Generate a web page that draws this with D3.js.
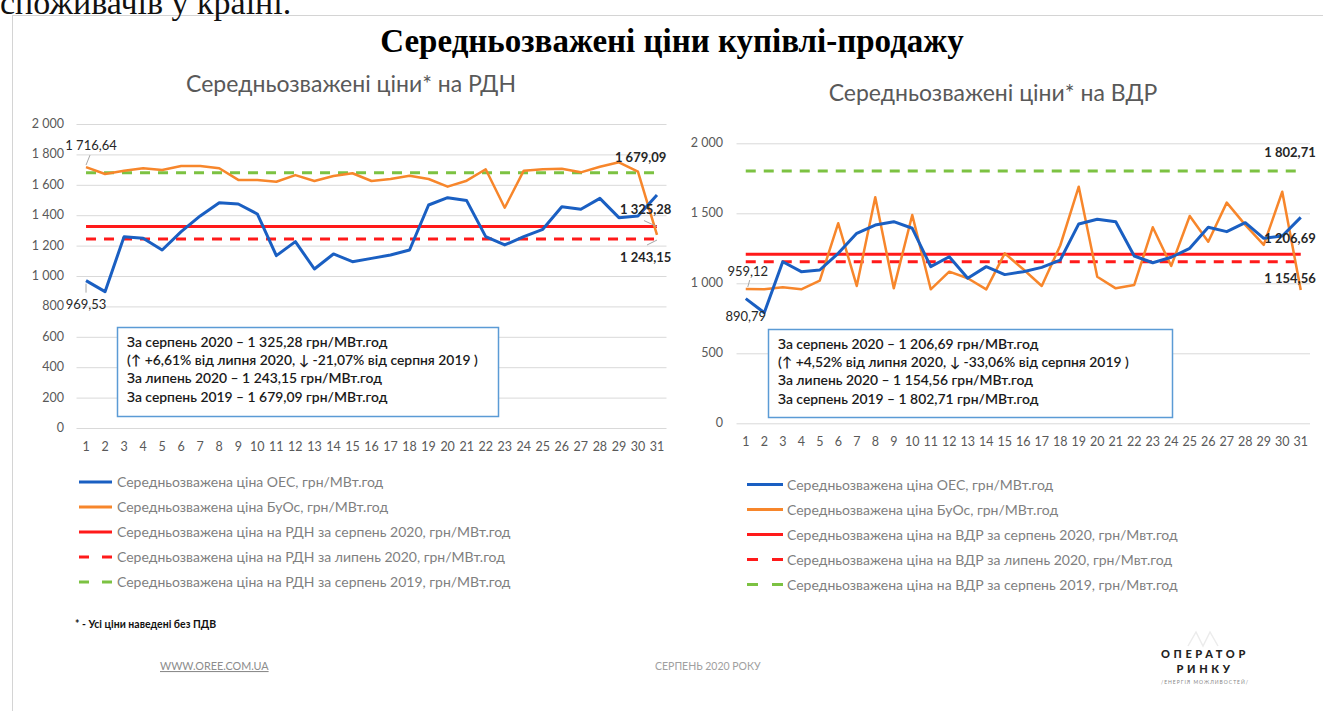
<!DOCTYPE html>
<html lang="uk">
<head>
    <title>Середньозважені ціни купівлі-продажу</title>
    <meta charset="utf-8">
    <style>
        body { margin: 0; background: #fff; }
        svg text { font-family: 'Lato', 'Open Sans', sans-serif; }
        .grid line { stroke: #d9d9d9; stroke-width: 1px; }
        .tick-label { fill: #595959; font-size: 12.5px; }
        .subtitle { fill: #595959; font-size: 23px; }
        .legend-text { fill: #7f7f7f; font-size: 14px; }
        .box-text { fill: #1a1a1a; font-size: 13.9px; font-weight: 600; }
        .point-label { fill: #262626; font-size: 13px; }
        .point-label.bold { font-weight: 700; }
        .leader { stroke: #a6a6a6; stroke-width: 1px; }
    </style>
</head>
<body>
<svg id="chart" width="1323" height="711"></svg>
<script src="https://d3js.org/d3.v7.min.js"></script>
<script>
// days of August 2020
const days = [1, 2, 3, 4, 5, 6, 7, 8, 9, 10, 11, 12, 13, 14, 15, 16, 17, 18, 19, 20,
              21, 22, 23, 24, 25, 26, 27, 28, 29, 30, 31];

// РДН (day-ahead market)
const rdnOes = [969.53, 897, 1259, 1248, 1171, 1292, 1395, 1482, 1474, 1408, 1134, 1226, 1046, 1145, 1094,
                1116, 1138, 1171, 1467, 1515, 1496, 1259, 1204, 1259, 1307, 1456, 1439, 1511, 1384, 1395, 1533];
const rdnBuos = [1716.64, 1671, 1693, 1709, 1697, 1724, 1724, 1709, 1632, 1632, 1620, 1664, 1625, 1658, 1676,
                 1625, 1638, 1660, 1638, 1588, 1627, 1702, 1449, 1693, 1702, 1705, 1682, 1719, 1748, 1686, 1270];
const rdnAug2020 = 1325.28;
const rdnJul2020 = 1243.15;
const rdnAug2019 = 1679.09;
const rdnTicks = [0, 200, 400, 600, 800, 1000, 1200, 1400, 1600, 1800, 2000];

// ВДР (intraday market)
const vdrOes = [890.79, 790, 1154, 1083, 1095, 1214, 1357, 1416, 1440, 1393, 1119, 1190, 1036, 1119, 1062,
                1083, 1114, 1166, 1424, 1457, 1440, 1195, 1147, 1186, 1250, 1400, 1369, 1433, 1321, 1338, 1471];
const vdrBuos = [959.12, 957, 971, 957, 1019, 1429, 981, 1614, 964, 1488, 957, 1083, 1036, 957, 1214,
                 1100, 981, 1270, 1690, 1047, 964, 988, 1400, 1124, 1481, 1297, 1576, 1417, 1274, 1654, 952];
const vdrAug2020 = 1206.69;
const vdrJul2020 = 1154.56;
const vdrAug2019 = 1802.71;
const vdrTicks = [0, 500, 1000, 1500, 2000];

const rdnLegend = [
    "Середньозважена ціна ОЕС, грн/МВт.год",
    "Середньозважена ціна БуОс, грн/МВт.год",
    "Середньозважена ціна на РДН за серпень 2020, грн/МВт.год",
    "Середньозважена ціна на РДН за липень 2020, грн/МВт.год",
    "Середньозважена ціна на РДН за серпень 2019, грн/МВт.год"
];
const vdrLegend = [
    "Середньозважена ціна ОЕС, грн/МВт.год",
    "Середньозважена ціна БуОс, грн/МВт.год",
    "Середньозважена ціна на ВДР за серпень 2020, грн/Мвт.год",
    "Середньозважена ціна на ВДР за липень 2020, грн/Мвт.год",
    "Середньозважена ціна на ВДР за серпень 2019, грн/Мвт.год"
];
const rdnNote = [
    "За серпень 2020 – 1 325,28 грн/МВт.год",
    "(↑ +6,61% від липня 2020, ↓ -21,07% від серпня 2019 )",
    "За липень 2020 – 1 243,15 грн/МВт.год",
    "За серпень 2019 – 1 679,09 грн/МВт.год"
];
const vdrNote = [
    "За серпень 2020 – 1 206,69 грн/МВт.год",
    "(↑ +4,52% від липня 2020, ↓ -33,06% від серпня 2019 )",
    "За липень 2020 – 1 154,56 грн/МВт.год",
    "За серпень 2019 – 1 802,71 грн/МВт.год"
];

const locale = d3.formatLocale({decimal: ",", thousands: " ", grouping: [3], currency: ["", ""]});
const fmtTick = v => v >= 1000 ? locale.format(",")(v) : String(v);
const fmtVal = locale.format(",.2f");

const colors = {oes: "#1a5fc2", buos: "#f7862b", red: "#ff1a1a", green: "#7cc242"};

const svg = d3.select("#chart");

// slide frame
svg.append("rect")
    .attr("x", 12.5).attr("y", 15.5)
    .attr("width", 1330).attr("height", 720)
    .attr("fill", "none")
    .attr("stroke", "#d4d4d4");

// page fragment above the slide
svg.append("text")
    .attr("x", 0).attr("y", 14)
    .style("font-family", "'Liberation Serif', serif")
    .style("font-size", "34px")
    .attr("fill", "#111")
    .text("споживачів у країні.");

svg.append("text")
    .attr("x", 672).attr("y", 52)
    .attr("text-anchor", "middle")
    .style("font-family", "'Liberation Serif', serif")
    .style("font-size", "33px")
    .style("font-weight", "bold")
    .attr("fill", "#000")
    .text("Середньозважені ціни купівлі-продажу");

let rdn = {
    subtitle: "Середньозважені ціни* на РДН", subX: 351, subY: 92,
    oes: rdnOes, buos: rdnBuos,
    refs: [rdnAug2020, rdnJul2020, rdnAug2019],
    ticks: rdnTicks,
    left: 76.5, right: 666.5, top: 124, bottom: 428,
    tickX: 64, dayY: 451,
    legend: rdnLegend, legendX: 79, legendY: 482, legendLen: 33, legendGap: 5, legendDash: "10,13",
    note: rdnNote, box: [117, 327, 381, 89],
    labels: [
        {series: "buos", day: 1, dx: 5, dy: -17, bold: false, leader: [0, -2, 4, -12]},
        {series: "oes", day: 1, dx: 0, dy: 28, bold: false, leader: [0, 3, 0, 12]},
        {series: "ref2", day: 29, dx: -4, dy: -11, bold: true, anchor: "start"},
        {series: "ref0", day: 31, dx: -37, dy: -13, bold: true, anchor: "start", leader: [-13, -6, 0, 0]},
        {series: "ref1", day: 31, dx: -37, dy: 23, bold: true, anchor: "start", leader: [-10, 6, 0, 1]}
    ]
};

let vdr = {
    subtitle: "Середньозважені ціни* на ВДР", subX: 993, subY: 101,
    oes: vdrOes, buos: vdrBuos,
    refs: [vdrAug2020, vdrJul2020, vdrAug2019],
    ticks: vdrTicks,
    left: 736.5, right: 1310, top: 143.3, bottom: 423.3,
    tickX: 723, dayY: 446,
    legend: vdrLegend, legendX: 747, legendY: 484.5, legendLen: 36, legendGap: 4, legendDash: "11,14",
    note: vdrNote, box: [768, 329, 404, 88],
    labels: [
        {series: "buos", day: 1, dx: 2, dy: -13, bold: false, leader: [2, -2, 4, -9]},
        {series: "oes", day: 1, dx: 0, dy: 22, bold: false},
        {series: "ref2", day: 31, dx: 15, dy: -14, bold: true, anchor: "end"},
        {series: "ref0", day: 31, dx: 15, dy: -11, bold: true, anchor: "end"},
        {series: "ref1", day: 31, dx: 15, dy: 21, bold: true, anchor: "end"}
    ]
};

function drawPanel(graph) {
    let xScale = d3.scalePoint()
        .domain(days)
        .range([graph.left, graph.right])
        .padding(0.5);
    let yScale = d3.scaleLinear()
        .domain([0, 2000])
        .range([graph.bottom, graph.top]);
    let g = svg.append("g");

    g.append("text")
        .attr("class", "subtitle")
        .attr("x", graph.subX).attr("y", graph.subY)
        .attr("text-anchor", "middle")
        .text(graph.subtitle);

    // gridlines + y labels
    g.append("g").attr("class", "grid")
        .selectAll("line")
        .data(graph.ticks)
        .join("line")
        .attr("x1", graph.left).attr("x2", graph.right)
        .attr("y1", d => yScale(d) + 0.5).attr("y2", d => yScale(d) + 0.5);
    g.append("g")
        .selectAll("text")
        .data(graph.ticks)
        .join("text")
        .attr("class", "tick-label")
        .attr("x", graph.tickX).attr("y", d => yScale(d) + 4)
        .attr("text-anchor", "end")
        .text(fmtTick);

    // day labels
    g.append("g")
        .selectAll("text")
        .data(days)
        .join("text")
        .attr("class", "tick-label")
        .attr("x", d => xScale(d)).attr("y", graph.dayY)
        .attr("text-anchor", "middle")
        .text(d => d);

    // reference lines
    const refStyles = [
        {color: colors.red, dash: null},
        {color: colors.red, dash: "10,8"},
        {color: colors.green, dash: "10,8"}
    ];
    graph.refs.forEach((v, i) => {
        g.append("line")
            .attr("x1", xScale(1)).attr("x2", xScale(31))
            .attr("y1", yScale(v)).attr("y2", yScale(v))
            .attr("stroke", refStyles[i].color)
            .attr("stroke-width", 3)
            .attr("stroke-dasharray", refStyles[i].dash);
    });

    let line = d3.line()
        .x((d, i) => xScale(days[i]))
        .y(d => yScale(d));
    g.append("path").datum(graph.buos)
        .attr("d", line).attr("fill", "none")
        .attr("stroke", colors.buos).attr("stroke-width", 2.5)
        .attr("stroke-linejoin", "round");
    g.append("path").datum(graph.oes)
        .attr("d", line).attr("fill", "none")
        .attr("stroke", colors.oes).attr("stroke-width", 3)
        .attr("stroke-linejoin", "round");

    // value labels
    graph.labels.forEach(l => {
        let v;
        if (l.series === "oes") v = graph.oes[l.day - 1];
        else if (l.series === "buos") v = graph.buos[l.day - 1];
        else v = graph.refs[+l.series.slice(3)];
        let px = xScale(l.day), py = yScale(v);
        if (l.leader) {
            g.append("line").attr("class", "leader")
                .attr("x1", px + l.leader[0]).attr("y1", py + l.leader[1])
                .attr("x2", px + l.leader[2]).attr("y2", py + l.leader[3]);
        }
        g.append("text")
            .attr("class", "point-label" + (l.bold ? " bold" : ""))
            .attr("x", px + l.dx).attr("y", py + l.dy)
            .attr("text-anchor", l.anchor || "middle")
            .text(fmtVal(v));
    });

    // note box
    let b = graph.box;
    g.append("rect")
        .attr("x", b[0] + 0.5).attr("y", b[1] + 0.5)
        .attr("width", b[2]).attr("height", b[3])
        .attr("fill", "#fff")
        .attr("stroke", "#5b9bd5").attr("stroke-width", 1.5);
    g.append("g")
        .selectAll("text")
        .data(graph.note)
        .join("text")
        .attr("class", "box-text")
        .attr("x", b[0] + 10)
        .attr("y", (d, i) => b[1] + 19.5 + i * 18.4)
        .text(d => d);

    // legend
    const legendStyles = [
        {color: colors.oes, dash: null},
        {color: colors.buos, dash: null},
        {color: colors.red, dash: null},
        {color: colors.red, dash: graph.legendDash},
        {color: colors.green, dash: graph.legendDash}
    ];
    let lg = g.append("g");
    graph.legend.forEach((t, i) => {
        let y = graph.legendY + i * 25;
        lg.append("line")
            .attr("x1", graph.legendX).attr("x2", graph.legendX + graph.legendLen)
            .attr("y1", y).attr("y2", y)
            .attr("stroke", legendStyles[i].color)
            .attr("stroke-width", 3)
            .attr("stroke-dasharray", legendStyles[i].dash);
        lg.append("text")
            .attr("class", "legend-text")
            .attr("x", graph.legendX + graph.legendLen + graph.legendGap)
            .attr("y", y + 5)
            .text(t);
    });
}

drawPanel(rdn);
drawPanel(vdr);

// footnote & footer
svg.append("text")
    .attr("x", 75).attr("y", 628)
    .style("font-size", "10.5px").style("font-weight", "bold")
    .attr("fill", "#111")
    .text("* - Усі ціни наведені без ПДВ");

svg.append("text")
    .attr("x", 160).attr("y", 670)
    .style("font-size", "10.8px")
    .style("text-decoration", "underline")
    .attr("fill", "#8c8c8c")
    .text("WWW.OREE.COM.UA");

svg.append("text")
    .attr("x", 655).attr("y", 670)
    .style("font-size", "10.5px")
    .attr("fill", "#a0a0a0")
    .text("СЕРПЕНЬ 2020 РОКУ");

// faint logo mark
svg.append("path")
    .attr("d", "M1188,646 L1196,632 L1203,646 L1210,632 L1218,646")
    .attr("fill", "none")
    .attr("stroke", "#ececec")
    .attr("stroke-width", 1.5);

svg.append("text")
    .attr("x", 1205).attr("y", 658)
    .attr("text-anchor", "middle")
    .style("font-size", "11px").style("font-weight", "900")
    .style("letter-spacing", "3.6px")
    .attr("fill", "#222")
    .text("ОПЕРАТОР");
svg.append("text")
    .attr("x", 1205).attr("y", 673)
    .attr("text-anchor", "middle")
    .style("font-size", "11px").style("font-weight", "900")
    .style("letter-spacing", "3.6px")
    .attr("fill", "#222")
    .text("РИНКУ");
svg.append("text")
    .attr("x", 1205).attr("y", 684)
    .attr("text-anchor", "middle")
    .style("font-size", "5px")
    .style("letter-spacing", "1px")
    .attr("fill", "#888")
    .text("/ЕНЕРГІЯ МОЖЛИВОСТЕЙ/");
</script>
</body>
</html>
